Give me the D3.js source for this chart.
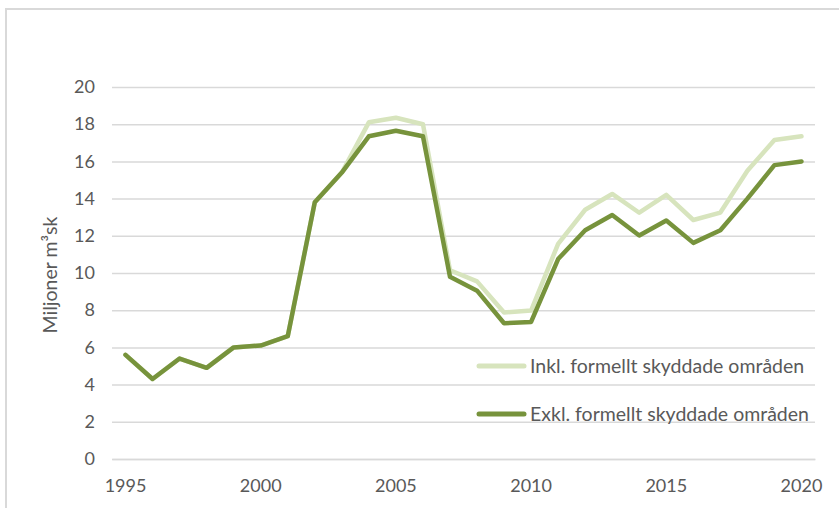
<!DOCTYPE html>
<html>
<head>
<meta charset="utf-8">
<script src="https://cdn.jsdelivr.net/npm/d3@7"></script>
<style>
  html, body { margin: 0; padding: 0; background: #fff; }
  svg { display: block; }
  text { font-family: Lato, "Open Sans", sans-serif; fill: #595959; }
</style>
</head>
<body>
<svg id="chart" width="839" height="508"></svg>
<script>
const years = d3.range(1995, 2021);
const yTicks = [0, 2, 4, 6, 8, 10, 12, 14, 16, 18, 20];
const xTickLabels = [1995, 2000, 2005, 2010, 2015, 2020];
const seriesNames = ["Inkl. formellt skyddade områden", "Exkl. formellt skyddade områden"];
const inkl = [5.6, 4.3, 5.4, 4.9, 6.0, 6.1, 6.6, 13.8, 15.4, 18.1, 18.35, 18.0, 10.15, 9.55, 7.88, 7.98, 11.57, 13.4, 14.25, 13.24, 14.2, 12.85, 13.25, 15.5, 17.15, 17.35];
const exkl = [5.6, 4.3, 5.4, 4.9, 6.0, 6.1, 6.6, 13.8, 15.4, 17.35, 17.65, 17.35, 9.8, 9.05, 7.3, 7.37, 10.75, 12.3, 13.12, 12.02, 12.82, 11.62, 12.3, 14.0, 15.8, 16.0];
const yTitle = "Miljoner m³sk";

const svg = d3.select("#chart");
const mLeft = 112, mRight = 815, mTop = 87, mBottom = 459;

// chart area border
svg.append("rect").attr("x", 6).attr("y", 9).attr("width", 850).attr("height", 520)
  .attr("fill", "none").attr("stroke", "#d9d9d9").attr("stroke-width", 2);

const x = d3.scaleBand().domain(years).range([mLeft, mRight]).padding(0);
const y = d3.scaleLinear().domain([0, 20]).range([mBottom, mTop]);

// gridlines
const yAxis = d3.axisLeft(y).tickValues(yTicks).tickSize(-(mRight - mLeft)).tickPadding(17);
const gy = svg.append("g").attr("transform", `translate(${mLeft},0)`).call(yAxis);
gy.select(".domain").remove();
gy.selectAll(".tick line").attr("stroke", "#d9d9d9").attr("stroke-width", 1.5);
gy.selectAll(".tick text").style("font-size", "18px").attr("fill", "#595959");

// x axis
const xAxis = d3.axisBottom(x).tickValues(xTickLabels).tickSize(0).tickPadding(20);
const gx = svg.append("g").attr("transform", `translate(0,${mBottom})`).call(xAxis);
gx.select(".domain").attr("stroke", "#d9d9d9").attr("stroke-width", 1.5);
gx.selectAll(".tick text").style("font-size", "18px").attr("fill", "#595959");

// y title
svg.append("text").attr("transform", `translate(57,${(mTop + mBottom) / 2 + 2}) rotate(-90)`)
  .attr("text-anchor", "middle").style("font-size", "19.5px").text(yTitle);

const line = d3.line().x((d, i) => x(years[i]) + x.bandwidth() / 2).y(d => y(d));
const colors = ["#d7e4bd", "#77933c"];
[inkl, exkl].forEach((s, k) => {
  svg.append("path").datum(s).attr("d", line).attr("fill", "none")
    .attr("stroke", colors[k]).attr("stroke-width", 4.5)
    .attr("stroke-linejoin", "round").attr("stroke-linecap", "round");
});

// legend
const legY = [366, 414];
seriesNames.forEach((n, k) => {
  svg.append("line").attr("x1", 479).attr("x2", 524).attr("y1", legY[k]).attr("y2", legY[k])
    .attr("stroke", colors[k]).attr("stroke-width", 5).attr("stroke-linecap", "round");
  svg.append("text").attr("x", 530).attr("y", legY[k]).attr("dy", "0.35em")
    .style("font-size", "19.5px").text(n);
});
</script>
</body>
</html>
